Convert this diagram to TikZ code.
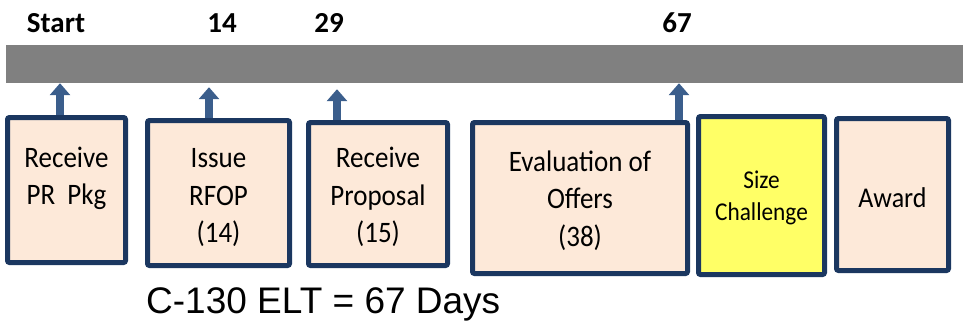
\documentclass[tikz,border=0pt]{standalone}
\usepackage{fontspec}
\setmainfont{Carlito}
\newfontfamily\arialf{Liberation Sans}
\usetikzlibrary{arrows.meta}
\definecolor{peach}{HTML}{FDE9D9}
\definecolor{navy}{HTML}{1B3760}
\definecolor{arrowblue}{HTML}{3B5E8C}
\definecolor{bargray}{HTML}{808080}
\definecolor{yel}{HTML}{FFFF66}
\newcommand{\vstretch}[1]{\scalebox{1}[1.1]{#1}}
\tikzset{
  stepbox/.style={draw=navy, line width=5pt, rounded corners=2pt, fill=peach, inner sep=0pt},
  boxtext/.style={anchor=base, inner sep=0pt, font=\fontsize{27}{37}\selectfont},
  daylabel/.style={anchor=base, inner sep=0pt, font=\fontsize{29}{35}\selectfont\bfseries},
  uparrow/.style={draw=arrowblue, line width=8pt, -{Triangle[width=20pt,length=12pt]}}
}
\begin{document}
\begin{tikzpicture}[x=1pt,y=-1pt]
\useasboundingbox (0,0) rectangle (963,321);
% timeline bar
\node[fill=bargray, inner sep=0pt, minimum width=957pt, minimum height=38pt] (bar) at (484.5,64) {};
% day labels
\node[daylabel] (lstart) at (56,33) {Start};
\node[daylabel] (l14) at (222,33) {14};
\node[daylabel] (l29) at (329,33) {29};
\node[daylabel] (l67) at (677,33) {67};
% boxes
\node[stepbox, minimum width=118pt, minimum height=145pt] (b1) at (66.5,190) {};
\node[stepbox, minimum width=142pt, minimum height=145pt] (b2) at (218.5,193) {};
\node[stepbox, minimum width=139pt, minimum height=143pt] (b3) at (378,194) {};
\node[stepbox, minimum width=215pt, minimum height=151pt] (b4) at (580,198) {};
\node[stepbox, fill=yel, minimum width=126pt, minimum height=158pt] (b5) at (761.5,195.5) {};
\node[stepbox, minimum width=112pt, minimum height=152pt] (b6) at (892.5,194.5) {};
% box texts
\node[boxtext] (t1a) at (66.5,167) {\vstretch{Receive}};
\node[boxtext] (t1b) at (66.5,204) {\vstretch{PR\ \ Pkg}};
\node[boxtext] (t2a) at (218.5,167) {\vstretch{Issue}};
\node[boxtext] (t2b) at (218.5,205) {\vstretch{RFOP}};
\node[boxtext] (t2c) at (218.5,242) {\vstretch{(14)}};
\node[boxtext] (t3a) at (378,167) {\vstretch{Receive}};
\node[boxtext] (t3b) at (378,205) {\vstretch{Proposal}};
\node[boxtext] (t3c) at (378,242) {\vstretch{(15)}};
\node[boxtext] (t4a) at (580,171) {\vstretch{Evaluation of}};
\node[boxtext] (t4b) at (580,208) {\vstretch{Offers}};
\node[boxtext] (t4c) at (580,246) {\vstretch{(38)}};
\node[boxtext, font=\fontsize{23.3}{32}\selectfont] (t5a) at (761.5,188) {\vstretch{Size}};
\node[boxtext, font=\fontsize{23.3}{32}\selectfont] (t5b) at (761.5,220) {\vstretch{Challenge}};
\node[boxtext, font=\fontsize{26}{32}\selectfont] (t6) at (892.5,207) {\vstretch{Award}};
% arrows
\coordinate (a1) at (60,0);
\coordinate (a2) at (209,0);
\coordinate (a3) at (337,0);
\coordinate (a4) at (679,0);
\draw[uparrow] (a1 |- b1.north) -- (a1 |- bar.south);
\draw[uparrow] (a2 |- b2.north) -- ([yshift=-4pt]a2 |- bar.south);
\draw[uparrow] (a3 |- b3.north) -- ([yshift=-6pt]a3 |- bar.south);
\draw[uparrow] (a4 |- b4.north) -- (a4 |- bar.south);
% caption
\node[anchor=base west, inner sep=0pt, font=\arialf\fontsize{37}{42}\selectfont] (cap) at (146,313) {C-130 ELT = 67 Days};
\end{tikzpicture}
\end{document}
